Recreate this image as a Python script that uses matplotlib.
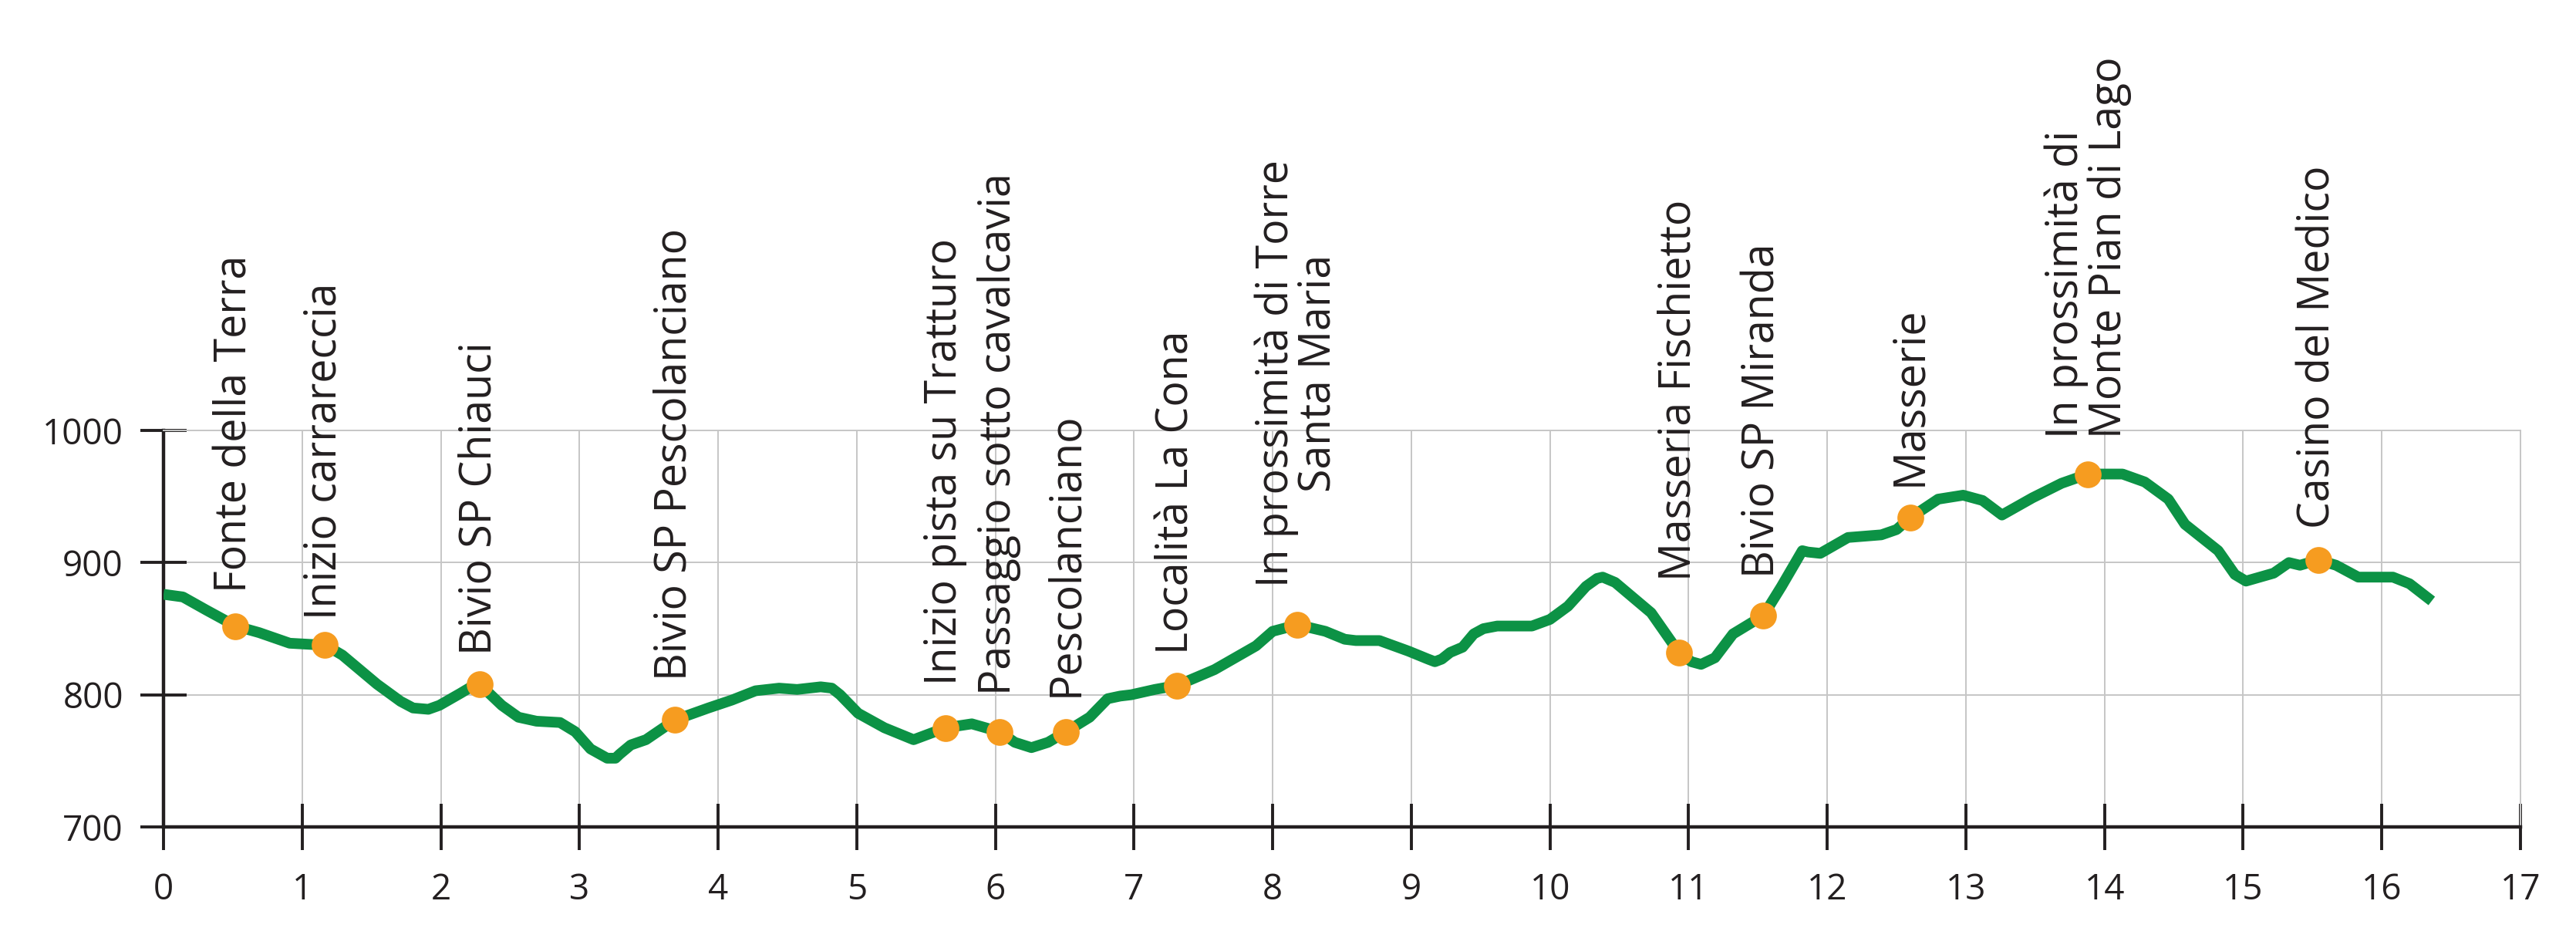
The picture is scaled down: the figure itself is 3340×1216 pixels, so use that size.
import matplotlib
matplotlib.use('Agg')
import matplotlib.pyplot as plt

plt.rcParams['font.family'] = ['Open Sans', 'DejaVu Sans']

# ---- data -------------------------------------------------------------
dist_km = [0.00, 0.14, 0.31, 0.52, 0.69, 0.91, 1.08, 1.16, 1.29, 1.54, 1.71, 1.80,
           1.91, 1.99, 2.14, 2.22, 2.28, 2.36, 2.44, 2.56, 2.69, 2.86, 2.97, 3.08,
           3.20, 3.26, 3.29, 3.37, 3.48, 3.69, 3.93, 4.10, 4.27, 4.44, 4.57, 4.74,
           4.82, 4.88, 5.01, 5.20, 5.34, 5.41, 5.64, 5.83, 6.03, 6.14, 6.26, 6.38,
           6.51, 6.68, 6.81, 6.90, 6.98, 7.15, 7.31, 7.58, 7.88, 8.00, 8.18, 8.38,
           8.52, 8.60, 8.77, 8.98, 9.12, 9.17, 9.22, 9.28, 9.37, 9.45, 9.52, 9.62,
           9.87, 10.00, 10.13, 10.26, 10.34, 10.38, 10.47, 10.73, 10.85, 10.93,
           11.02, 11.09, 11.19, 11.32, 11.54, 11.67, 11.82, 11.86, 11.95, 12.15,
           12.39, 12.50, 12.60, 12.80, 12.98, 13.12, 13.26, 13.48, 13.69, 13.88,
           14.13, 14.29, 14.46, 14.58, 14.82, 14.94, 15.02, 15.22, 15.33, 15.41,
           15.54, 15.67, 15.83, 16.08, 16.20, 16.36]
elev_m = [876, 874, 864, 852, 847, 839, 838, 838, 830, 808, 795, 790,
          789, 792, 801, 806, 808, 800, 792, 783, 780, 779, 772, 759,
          752, 752, 755, 762, 766, 781, 790, 796, 803, 805, 804, 806,
          805, 800, 786, 775, 769, 766, 775, 778, 772, 764, 760, 764,
          772, 783, 797, 799, 800, 804, 807, 819, 837, 848, 853, 848,
          842, 841, 841, 833, 827, 825, 827, 832, 836, 846, 850, 852,
          852, 857, 867, 882, 888, 889, 885, 862, 844, 832,
          825, 823, 828, 846, 860, 882, 909, 908, 907, 919,
          921, 925, 934, 948, 951, 947, 936, 949, 960, 967,
          967, 961, 948, 929, 909, 891, 886, 892, 900, 898,
          902, 898, 889, 889, 884, 871]

wp_km = [0.52, 1.16, 2.28, 3.69, 5.64, 6.03, 6.51, 7.31, 8.18, 10.93, 11.54,
         12.60, 13.88, 15.54]
wp_elev = [852, 838, 808, 781, 775, 772, 772, 807, 853, 832, 860, 934, 967, 902]
wp_names = ["Fonte della Terra", "Inizio carrareccia", "Bivio SP Chiauci",
            "Bivio SP Pescolanciano", "Inizio pista su Tratturo",
            "Passaggio sotto cavalcavia", "Pescolanciano", "Località La Cona",
            "In prossimità di Torre\nSanta Maria", "Masseria Fischietto",
            "Bivio SP Miranda", "Masserie", "In prossimità di\nMonte Pian di Lago",
            "Casino del Medico"]

x_ticks = list(range(0, 18))
y_ticks = [700, 800, 900, 1000]

# ---- layout / style (not data) ----------------------------------------
label_gap_px = [44, 33, 38, 51, 56, 48, 46, 41, 49, 93, 49, 41, 47, 41]
label_align = ['left'] * 8 + ['center'] + ['left'] * 5

W, H = 3341, 1216
fig = plt.figure(figsize=(W / 100, H / 100), dpi=100)
ax = fig.add_axes([212 / W, (H - 1072) / H, (3268 - 212) / W, (1072 - 558) / H])
ax.set_xlim(0, 17)
ax.set_ylim(700, 1000)

ink = '#231f20'
grid_c = '#c6c6c6'
ax.set_xticks(x_ticks)
ax.set_yticks(y_ticks)
ax.grid(True, color=grid_c, lw=1.4)
ax.set_axisbelow(True)

for s in ['top', 'right']:
    ax.spines[s].set_color(grid_c)
    ax.spines[s].set_linewidth(1.4)
for s in ['left', 'bottom']:
    ax.spines[s].set_color(ink)
    ax.spines[s].set_linewidth(3.2)

ax.tick_params(axis='both', direction='inout', length=43, width=2.8, color=ink,
               labelsize=33, labelcolor=ink)
ax.tick_params(axis='y', pad=16)
ax.tick_params(axis='x', pad=21)

ax.plot(dist_km, elev_m, color='#0C9245', lw=10, solid_joinstyle='round',
        solid_capstyle='butt', zorder=3)
ax.plot(wp_km, wp_elev, 'o', ms=25, mfc='#F69C20', mec='none', zorder=4)

for xk, ye, name, gap, al in zip(wp_km, wp_elev, wp_names, label_gap_px, label_align):
    ax.annotate(name, (xk, ye), xytext=(0, gap * 0.72), textcoords='offset points',
                rotation=90, ha='center', va='bottom', multialignment=al,
                fontsize=40, color=ink, linespacing=0.95, annotation_clip=False,
                zorder=5)

fig.savefig('out.png', dpi=100, facecolor='white')
